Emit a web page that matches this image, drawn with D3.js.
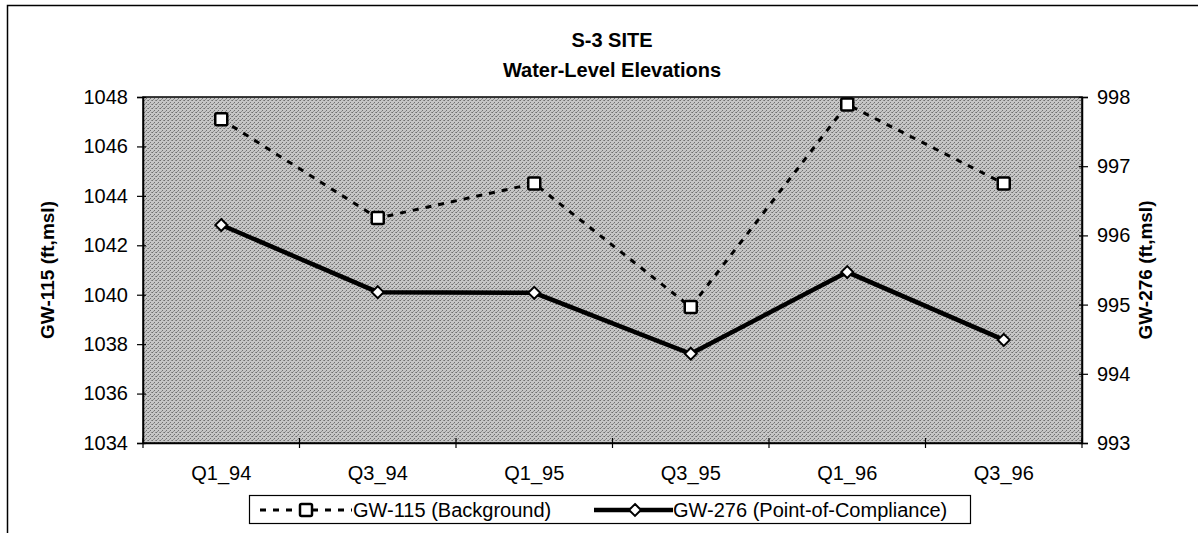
<!DOCTYPE html>
<html>
<head>
<meta charset="utf-8">
<script src="https://cdn.jsdelivr.net/npm/d3@7"></script>
<style>
  body { margin: 0; background: #fff; }
  text { font-family: Arial, "Liberation Sans", sans-serif; fill: #000; }
</style>
</head>
<body>
<div id="chart"></div>
<script>
// categories and series
const quarters = ["Q1_94", "Q3_94", "Q1_95", "Q3_95", "Q1_96", "Q3_96"];
const gw115 = [1047.1, 1043.1, 1044.5, 1039.5, 1047.7, 1044.5];   // left axis
const gw276 = [996.15, 995.18, 995.17, 994.29, 995.47, 994.49];   // right axis
const leftTicks = [1034, 1036, 1038, 1040, 1042, 1044, 1046, 1048];
const rightTicks = [993, 994, 995, 996, 997, 998];

const W = 1198, H = 533;
const m = {l: 143, r: 1082, t: 97, b: 443};
const font = "Arial, 'Liberation Sans', sans-serif";

const svg = d3.select("#chart").append("svg")
    .attr("width", W).attr("height", H);

// outer frame (runs off the right / bottom of the picture)
svg.append("rect").attr("x", 7.5).attr("y", 5.5)
    .attr("width", W + 20).attr("height", H + 20)
    .attr("fill", "none").attr("stroke", "#000").attr("stroke-width", 1.5);

// halftone-ish grey background for plot area
const defs = svg.append("defs");
const pat = defs.append("pattern").attr("id", "dither")
    .attr("width", 4).attr("height", 4).attr("patternUnits", "userSpaceOnUse");
pat.append("rect").attr("width", 4).attr("height", 4).attr("fill", "#c6c6c6");
pat.append("rect").attr("width", 1).attr("height", 1).attr("fill", "#707070");
pat.append("rect").attr("x", 2).attr("y", 2).attr("width", 1).attr("height", 1).attr("fill", "#707070");
pat.append("rect").attr("x", 3).attr("y", 0).attr("width", 1).attr("height", 1).attr("fill", "#909090");
pat.append("rect").attr("x", 1).attr("y", 3).attr("width", 1).attr("height", 1).attr("fill", "#909090");

// scales
const x = d3.scaleBand().domain(quarters).range([m.l, m.r]);
const yL = d3.scaleLinear().domain([1034, 1048]).range([m.b, m.t]);
const yR = d3.scaleLinear().domain([993, 998]).range([m.b, m.t]);

svg.append("rect").attr("x", m.l).attr("y", m.t)
    .attr("width", m.r - m.l).attr("height", m.b - m.t)
    .attr("fill", "url(#dither)").attr("stroke", "#000").attr("stroke-width", 1.5);

// left axis
const gL = svg.append("g").attr("transform", "translate(" + m.l + ",0)")
    .call(d3.axisLeft(yL).tickValues(leftTicks).tickFormat(d3.format("d")).tickSize(6).tickPadding(9));
gL.selectAll(".tick line").attr("x1", 3);

// right axis
const gR = svg.append("g").attr("transform", "translate(" + m.r + ",0)")
    .call(d3.axisRight(yR).tickValues(rightTicks).tickFormat(d3.format("d")).tickSize(6).tickPadding(9));
gR.selectAll(".tick line").attr("x1", -3);

// bottom axis: ticks at category boundaries
const gB = svg.append("g").attr("transform", "translate(0," + m.b + ")")
    .call(d3.axisBottom(x).tickSize(0).tickPadding(23));
const edges = quarters.map(q => x(q)).concat([m.r]);
gB.selectAll(".edge").data(edges).enter().append("line")
    .attr("x1", d => d).attr("x2", d => d)
    .attr("y1", -5).attr("y2", 5)
    .attr("stroke", "#000").attr("stroke-width", 1.2);

[gL, gR, gB].forEach(g => {
    g.select(".domain").attr("stroke", "#000").attr("stroke-width", 1.5);
    g.selectAll(".tick line").attr("stroke", "#000").attr("stroke-width", 1.2);
    g.selectAll("text").style("font-size", "20px").attr("font-family", font);
});

// titles
svg.append("text").attr("x", 612).attr("y", 47).attr("text-anchor", "middle")
    .style("font-size", "20px").style("font-weight", "bold").text("S-3 SITE");
svg.append("text").attr("x", 612).attr("y", 77).attr("text-anchor", "middle")
    .style("font-size", "20px").style("font-weight", "bold").text("Water-Level Elevations");

svg.append("text").attr("transform", "translate(54," + (m.t + m.b) / 2 + ") rotate(-90)")
    .attr("text-anchor", "middle").style("font-size", "19px").style("font-weight", "bold")
    .text("GW-115 (ft,msl)");
svg.append("text").attr("transform", "translate(1152," + (m.t + m.b) / 2 + ") rotate(-90)")
    .attr("text-anchor", "middle").style("font-size", "19px").style("font-weight", "bold")
    .text("GW-276 (ft,msl)");

const cx = q => x(q) + x.bandwidth() / 2;

// GW-115 dashed line with squares
svg.append("path")
    .attr("d", d3.line().x((d, i) => cx(quarters[i])).y(d => yL(d))(gw115))
    .attr("fill", "none").attr("stroke", "#000").attr("stroke-width", 3)
    .attr("stroke-dasharray", "6,7");

// GW-276 solid line with diamonds
svg.append("path")
    .attr("d", d3.line().x((d, i) => cx(quarters[i])).y(d => yR(d))(gw276))
    .attr("fill", "none").attr("stroke", "#000").attr("stroke-width", 4.5);

const square = (g, px, py) => g.append("rect")
    .attr("x", px - 6).attr("y", py - 6).attr("width", 12).attr("height", 12).attr("rx", 1.5)
    .attr("fill", "#fff").attr("stroke", "#000").attr("stroke-width", 2.5);
const diamond = (g, px, py) => g.append("path")
    .attr("d", d3.symbol().type(d3.symbolDiamond2).size(90)())
    .attr("transform", "translate(" + px + "," + py + ")")
    .attr("fill", "#fff").attr("stroke", "#000").attr("stroke-width", 2);

gw115.forEach((d, i) => square(svg, cx(quarters[i]), yL(d)));
gw276.forEach((d, i) => diamond(svg, cx(quarters[i]), yR(d)));

// legend
const leg = svg.append("g");
leg.append("rect").attr("x", 249.5).attr("y", 495.5).attr("width", 721).attr("height", 28)
    .attr("fill", "#fff").attr("stroke", "#000").attr("stroke-width", 1.2);
leg.append("line").attr("x1", 260).attr("x2", 352).attr("y1", 510).attr("y2", 510)
    .attr("stroke", "#000").attr("stroke-width", 3).attr("stroke-dasharray", "6,7");
square(leg, 306, 510);
leg.append("text").attr("x", 353).attr("y", 517).style("font-size", "20px").text("GW-115 (Background)");
leg.append("line").attr("x1", 594).attr("x2", 673).attr("y1", 510).attr("y2", 510)
    .attr("stroke", "#000").attr("stroke-width", 4.5);
diamond(leg, 635, 510);
leg.append("text").attr("x", 673).attr("y", 517).style("font-size", "20px").text("GW-276 (Point-of-Compliance)");
</script>
</body>
</html>
